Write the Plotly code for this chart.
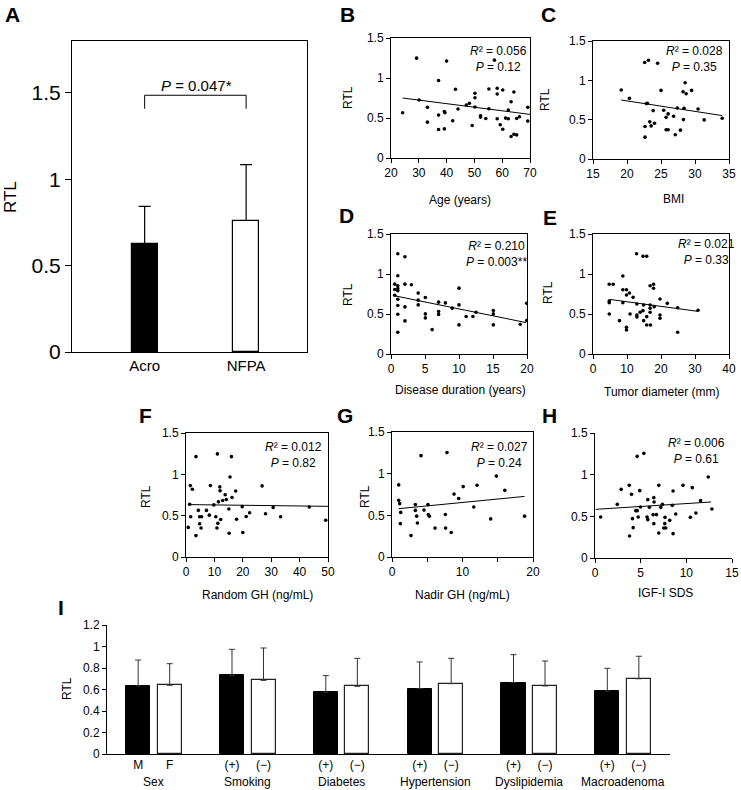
import plotly.graph_objects as go

W, H = 741, 790
FONT = "Arial, Liberation Sans, sans-serif"

# ---- panel A: Acro vs NFPA ----
a_groups = ["Acro", "NFPA"]
a_rtl = [0.626, 0.761]
a_sd = [0.217, 0.323]
a_bracket = [1.408, 1.486]  # leg bottom, bracket top
a_ptext = "<i>P</i> = 0.047*"

# ---- scatter panels ----
age_x = [24.2, 29.2, 30.1, 33.1, 33.1, 37.1, 37.1, 37.1, 39.2, 39.4, 39.2, 40.0, 42.2, 43.2, 44.1,
         47.1, 48.2, 49.2, 50.2, 50.2, 50.2, 52.2, 52.2, 54.1, 55.2, 55.2, 57.2, 58.2, 58.2, 58.2,
         59.3, 60.2, 60.2, 61.2, 62.2, 62.2, 63.2, 63.2, 64.2, 64.2, 65.2, 65.2, 66.2, 69.2, 69.2]
age_rtl = [0.566, 1.248, 0.725, 0.633, 0.448, 0.968, 0.536, 0.356, 0.582, 0.566, 0.364, 1.211, 0.465,
           0.859, 0.612, 0.662, 0.683, 0.406, 0.809, 0.754, 0.637, 0.528, 0.511, 0.494, 0.863, 0.616,
           1.223, 0.871, 0.800, 0.490, 0.415, 0.850, 0.360, 0.499, 0.599, 0.490, 0.704, 0.268, 0.825,
           0.297, 0.494, 0.289, 0.515, 0.633, 0.461]
age_fit_x = [24.2, 70]
age_fit_y = [0.750, 0.545]

bmi_x = [19.15, 20.35, 22.6, 23.15, 24.5, 25.0, 22.85, 23.0, 23.85, 22.65, 22.65, 23.35, 23.55, 24.05,
         25.4, 25.75, 26.05, 25.75, 26.05, 26.85, 27.1, 27.4, 27.85, 28.25, 28.55, 28.7, 28.4, 28.3,
         29.5, 30.45, 31.35, 34.0]
bmi_rtl = [0.877, 0.771, 1.226, 1.256, 1.218, 0.872, 0.704, 0.708, 0.615, 0.413, 0.278, 0.472, 0.421,
           0.455, 0.619, 0.531, 0.573, 0.371, 0.371, 0.544, 0.308, 0.649, 0.367, 0.855, 0.969, 0.830,
           0.645, 0.501, 0.872, 0.636, 0.497, 0.518]
bmi_fit_x = [19.15, 34.0]
bmi_fit_y = [0.750, 0.552]

dur_x = [0.55, 0.55, 0.55, 1.0, 1.0, 1.0, 1.0, 1.0, 1.0, 1.0, 1.0, 1.0, 2.05, 2.05, 2.05, 2.05, 3.0,
         4.0, 4.0, 4.0, 5.05, 5.05, 5.05, 6.05, 7.0, 7.0, 7.0, 8.0, 9.0, 10.0, 10.0, 10.0, 11.05,
         12.05, 12.5, 15.05, 15.05, 15.05, 19.0, 19.95, 19.95]
dur_rtl = [0.873, 0.806, 0.735, 1.254, 0.978, 0.852, 0.819, 0.790, 0.685, 0.606, 0.497, 0.272, 1.216,
           0.873, 0.589, 0.414, 0.865, 0.761, 0.673, 0.614, 0.706, 0.501, 0.451, 0.305, 0.648, 0.531,
           0.493, 0.639, 0.573, 0.823, 0.614, 0.364, 0.468, 0.468, 0.522, 0.543, 0.501, 0.364, 0.372,
           0.635, 0.418]
dur_fit_x = [0.35, 19.85]
dur_fit_y = [0.731, 0.393]

tumor_x = [4.78, 5.95, 4.78, 4.78, 4.78, 8.78, 8.78, 9.85, 9.85, 10.73, 11.8, 8.78, 9.85, 9.85, 7.8,
           10.9, 12.9, 12.9, 12.9, 13.85, 14.7, 14.9, 12.8, 14.7, 15.8, 14.9, 15.8, 15.8, 16.9, 16.8,
           17.8, 17.8, 16.8, 16.8, 16.8, 18.0, 19.7, 19.7, 19.7, 21.85, 24.9, 24.9, 30.9]
tumor_rtl = [0.871, 0.871, 0.663, 0.642, 0.500, 0.975, 0.804, 0.804, 0.738, 0.763, 0.708, 0.642, 0.333,
             0.300, 0.417, 0.500, 0.625, 0.488, 0.463, 0.521, 0.542, 0.417, 1.254, 1.221, 1.221, 0.613,
             0.467, 0.363, 0.363, 0.854, 0.871, 0.821, 0.613, 0.571, 0.521, 0.592, 0.688, 0.488, 0.446,
             0.633, 0.271, 0.579, 0.546]
tumor_fit_x = [4.78, 30.9]
tumor_fit_y = [0.683, 0.533]

rgh_x = [3.5, 11.06, 16.0, 15.5, 1.53, 2.24, 8.6, 11.9, 12.0, 26.8, 13.8, 17.5, 12.9, 14.2, 16.2, 11.4,
         1.3, 9.8, 19.8, 4.35, 7.2, 15.1, 1.65, 4.8, 5.5, 8.2, 10.5, 12.2, 17.8, 21.2, 22.4, 28.0,
         30.7, 33.3, 43.4, 49.2, 0.8, 4.8, 5.3, 3.5, 11.2, 10.9, 15.2, 20.0]
rgh_rtl = [1.214, 1.247, 1.214, 0.967, 0.864, 0.819, 0.864, 0.848, 0.802, 0.860, 0.753, 0.798, 0.683,
           0.695, 0.720, 0.667, 0.638, 0.630, 0.609, 0.564, 0.564, 0.580, 0.486, 0.486, 0.486, 0.506,
           0.486, 0.453, 0.457, 0.490, 0.535, 0.523, 0.600, 0.486, 0.605, 0.444, 0.358, 0.403, 0.350,
           0.259, 0.407, 0.350, 0.288, 0.296]
rgh_fit_x = [0.7, 50]
rgh_fit_y = [0.634, 0.613]

ngh_x = [4.11, 7.8, 0.95, 14.8, 0.95, 1.09, 1.23, 1.18, 3.31, 3.31, 3.5, 3.6, 2.7, 4.54, 5.1, 5.15,
         5.3, 6.1, 7.57, 7.6, 8.4, 8.8, 9.46, 10.1, 11.6, 12.06, 14.0, 16.0, 18.8]
ngh_rtl = [1.216, 1.253, 0.865, 0.971, 0.680, 0.640, 0.535, 0.400, 0.629, 0.559, 0.490, 0.408, 0.257,
           0.563, 0.629, 0.510, 0.490, 0.347, 0.510, 0.347, 0.294, 0.755, 0.702, 0.845, 0.600, 0.861,
           0.457, 0.800, 0.490]
ngh_fit_x = [0.95, 18.8]
ngh_fit_y = [0.580, 0.727]

igf_x = [0.62, 2.44, 2.87, 3.75, 4.0, 3.78, 4.1, 4.18, 4.47, 4.62, 4.62, 5.35, 4.9, 4.98, 4.73, 5.78,
         5.7, 5.78, 5.96, 6.44, 6.47, 6.36, 6.44, 6.73, 6.98, 6.98, 7.2, 7.38, 7.67, 7.64, 7.53, 7.75,
         8.18, 8.47, 8.55, 8.55, 8.84, 9.64, 10.65, 10.44, 11.05, 11.56, 12.4, 12.8]
igf_rtl = [0.492, 0.644, 0.824, 0.872, 0.764, 0.264, 0.472, 0.364, 0.568, 0.568, 1.220, 1.256, 0.808,
           0.612, 0.492, 0.700, 0.492, 0.460, 0.608, 0.724, 0.672, 0.520, 0.412, 0.520, 0.872, 0.300,
           0.608, 0.644, 0.488, 0.412, 0.360, 0.360, 0.452, 0.632, 0.804, 0.292, 0.528, 0.872, 0.844,
           0.488, 0.540, 0.688, 0.972, 0.588]
igf_fit_x = [0.07, 12.7]
igf_fit_y = [0.584, 0.672]

# ---- panel I: clinical subgroups ----
i_groups = ["Sex", "Smoking", "Diabetes", "Hypertension", "Dyslipidemia", "Macroadenoma"]
i_sub = [["M", "F"], ["(+)", "(\u2212)"], ["(+)", "(\u2212)"], ["(+)", "(\u2212)"],
         ["(+)", "(\u2212)"], ["(+)", "(\u2212)"]]
i_black = [0.633, 0.732, 0.574, 0.608, 0.664, 0.586]
i_black_sd = [0.241, 0.242, 0.155, 0.248, 0.260, 0.211]
i_white = [0.639, 0.685, 0.630, 0.654, 0.633, 0.700]
i_white_sd = [0.201, 0.301, 0.260, 0.236, 0.232, 0.209]


def dom_x(x0, x1):
    return [x0 / W, x1 / W]


def dom_y(y0, y1):
    return [1 - y1 / H, 1 - y0 / H]


def axis_style(size=12, mirror=False, ticks="outside", ticklen=4):
    return dict(showline=True, linecolor="black", linewidth=1, mirror=mirror, ticks=ticks,
                ticklen=ticklen, tickcolor="black", tickwidth=1, showgrid=False, zeroline=False,
                tickfont=dict(family=FONT, size=size, color="black"))


fig = go.Figure()
annotations = []
shapes = []


def note(text, x, y, size=12, **kw):
    annotations.append(dict(text=text, x=x / W, y=1 - y / H, xref="paper", yref="paper",
                            showarrow=False, font=dict(family=FONT, size=size, color="black"),
                            xanchor="center", yanchor="middle", **kw))


# panel A
fig.add_trace(go.Bar(x=[0, 1], y=a_rtl, width=0.256, xaxis="x", yaxis="y",
                     marker=dict(color=["black", "white"], line=dict(color="black", width=1.2)),
                     error_y=dict(type="data", symmetric=False, array=a_sd, arrayminus=[0, 0],
                                  color="black", thickness=1.2, width=6),
                     showlegend=False))
fig.update_layout(
    xaxis=dict(domain=dom_x(72, 307), anchor="y", range=[-0.716, 1.60], tickvals=[0, 1],
               ticktext=a_groups, **axis_style(15, mirror=True, ticks="")),
    yaxis=dict(domain=dom_y(41, 352), anchor="x", range=[0, 1.8], tickvals=[0, 0.5, 1, 1.5],
               **axis_style(21, mirror=True, ticklen=6)),
)
shapes.append(dict(type="path", xref="x", yref="y",
                   path=f"M 0 {a_bracket[0]} L 0 {a_bracket[1]} L 1 {a_bracket[1]} L 1 {a_bracket[0]}",
                   line=dict(color="black", width=1)))
note(a_ptext, 196, 85, size=15)
note("RTL", 10, 197, size=17, textangle=-90)

panels = [
    # letter, x, y, fit x, fit y, x range, tickvals, ticktext, px box, box?, r2, p, text pos, x title, title pos, RTL pos, letter pos
    ("B", age_x, age_rtl, age_fit_x, age_fit_y, [20, 70], [20, 30, 40, 50, 60, 70], None,
     (391, 530, 38, 158), True, "0.056", "0.12", (498, 59), "Age (years)", (460, 200), (348, 98), (347, 15)),
    ("C", bmi_x, bmi_rtl, bmi_fit_x, bmi_fit_y, [15, 35], [15, 20, 25, 30, 35], None,
     (593, 729, 41, 159), True, "0.028", "0.35", (694, 59), "BMI", (673, 199), (545, 100), (548, 15)),
    ("D", dur_x, dur_rtl, dur_fit_x, dur_fit_y, [0, 20], [0, 5, 10, 15, 20], None,
     (391, 527, 234, 354), True, "0.210", "0.003**", (496, 254), "Disease duration (years)", (460, 390), (348, 295), (346, 215)),
    ("E", tumor_x, tumor_rtl, tumor_fit_x, tumor_fit_y, [0, 40], [0, 10, 20, 30, 40], None,
     (593, 729, 234, 354), True, "0.021", "0.33", (706, 252), "Tumor diameter (mm)", (662, 392), (548, 293), (550, 217)),
    ("F", rgh_x, rgh_rtl, rgh_fit_x, rgh_fit_y, [0, 50], [0, 10, 20, 30, 40, 50], None,
     (186, 328, 433, 557), True, "0.012", "0.82", (293, 455), "Random GH (ng/mL)", (257, 595), (146, 497), (145, 415)),
    ("G", ngh_x, ngh_rtl, ngh_fit_x, ngh_fit_y, [0, 20], [0, 5, 10, 15, 20], ["0", "", "10", "", "20"],
     (392, 533, 432, 557), True, "0.027", "0.24", (499, 455), "Nadir GH (ng/mL)", (462, 595), (365, 497), (345, 415)),
    ("H", igf_x, igf_rtl, igf_fit_x, igf_fit_y, [0, 15], [0, 5, 10, 15], None,
     (595, 732, 433, 558), False, "0.006", "0.61", (696, 451), "IGF-I SDS", (665, 593), None, (549, 415)),
]

for k, (letter, xs, ys, fx, fy, xr, tv, tt, bx, boxed, r2, p, tpos, xtitle, xtpos, ypos, lpos) in enumerate(panels):
    n = k + 2
    xa, ya = f"x{n}", f"y{n}"
    fig.add_trace(go.Scatter(x=xs, y=ys, mode="markers", xaxis=xa, yaxis=ya, showlegend=False,
                             marker=dict(color="black", size=3.6)))
    fig.add_trace(go.Scatter(x=fx, y=fy, mode="lines", xaxis=xa, yaxis=ya, showlegend=False,
                             line=dict(color="black", width=1)))
    xaxis = dict(domain=dom_x(bx[0], bx[1]), anchor=ya, range=xr, tickvals=tv, **axis_style(12, mirror=boxed))
    if tt:
        xaxis["ticktext"] = tt
    yaxis = dict(domain=dom_y(bx[2], bx[3]), anchor=xa, range=[0, 1.5], tickvals=[0, 0.5, 1, 1.5],
                 **axis_style(12, mirror=boxed))
    fig.update_layout({f"xaxis{n}": xaxis, f"yaxis{n}": yaxis})
    note(f"<i>R</i>\u00b2 = {r2}<br><i>P</i> = {p}", tpos[0], tpos[1])
    note(xtitle, xtpos[0], xtpos[1])
    if ypos:
        note("RTL", ypos[0], ypos[1], textangle=-90)
    note(f"<b>{letter}</b>", lpos[0], lpos[1], size=21)

note("<b>A</b>", 12, 15, size=21)

# panel I
off = 0.168
bx_black = [i - off for i in range(len(i_groups))]
bx_white = [i + off for i in range(len(i_groups))]
err_style = dict(type="data", symmetric=False, color="#333333", thickness=1, width=3)
fig.add_trace(go.Bar(x=bx_black, y=i_black, width=0.256, xaxis="x9", yaxis="y9", showlegend=False,
                     marker=dict(color="black", line=dict(color="black", width=1)),
                     error_y=dict(array=i_black_sd, arrayminus=[0] * 6, **err_style)))
fig.add_trace(go.Bar(x=bx_white, y=i_white, width=0.256, xaxis="x9", yaxis="y9", showlegend=False,
                     marker=dict(color="white", line=dict(color="#222222", width=1.2)),
                     error_y=dict(array=i_white_sd, arrayminus=[0] * 6, **err_style)))
tick_pos = []
tick_txt = []
for i, pair in enumerate(i_sub):
    tick_pos += [bx_black[i], bx_white[i]]
    tick_txt += pair
fig.update_layout(
    xaxis9=dict(domain=dom_x(107, 670), anchor="y9", range=[-0.5, 5.5], tickvals=tick_pos,
                ticktext=tick_txt, **axis_style(12, ticks="")),
    yaxis9=dict(domain=dom_y(625, 754), anchor="x9", range=[0, 1.2], dtick=0.2, **axis_style(12)),
)
for i, g in enumerate(i_groups):
    annotations.append(dict(text=g, x=i, y=1 - 782 / H, xref="x9", yref="paper", showarrow=False,
                            font=dict(family=FONT, size=12, color="black"), yanchor="middle"))
note("RTL", 67, 689, textangle=-90)
note("<b>I</b>", 61, 607, size=21)

fig.update_layout(width=W, height=H, margin=dict(l=0, r=0, t=0, b=0, autoexpand=False),
                  plot_bgcolor="white", paper_bgcolor="white", font=dict(family=FONT, color="black"),
                  annotations=annotations, shapes=shapes, bargap=0)
page_fix = ("document.documentElement.style.margin='0px';document.body.style.margin='0px';"
            "document.documentElement.style.overflow='hidden';document.body.style.overflow='hidden';")
fig.write_html("out.html", config={"displayModeBar": False}, post_script=page_fix)
